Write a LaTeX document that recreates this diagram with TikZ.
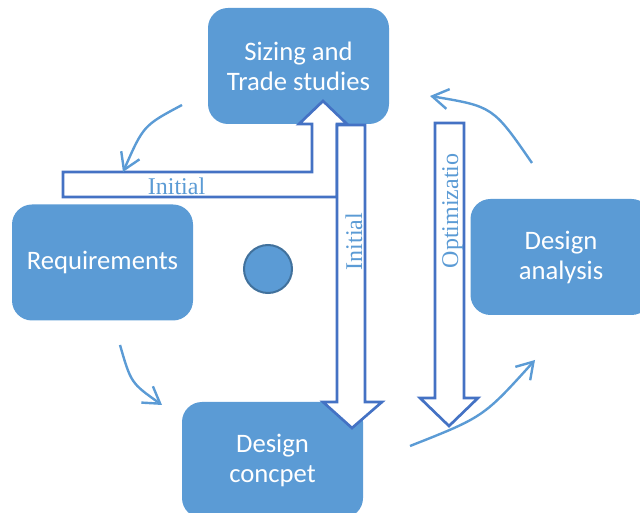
\documentclass[tikz,border=0pt]{standalone}
\usepackage{fontspec}
\setmainfont{Liberation Serif}
\newfontfamily\boxfont{Carlito}
\usetikzlibrary{arrows.meta}
\definecolor{boxblue}{HTML}{5B9BD5}
\definecolor{edgeblue}{HTML}{4472C4}
\definecolor{ringblue}{HTML}{41719C}
\begin{document}
\begin{tikzpicture}[x=0.75pt,y=-0.75pt,
  stagebox/.style={rectangle, rounded corners=15pt, fill=boxblue, text=white,
    font=\boxfont\fontsize{20pt}{22.5pt}\selectfont, align=center,
    inner sep=0pt, minimum width=135.75pt, minimum height=87pt},
  blockarrow/.style={draw=edgeblue, fill=white, line width=2pt, line join=miter},
  arrowlabel/.style={text=boxblue, font=\fontsize{18pt}{20pt}\selectfont, inner sep=0pt},
  cyclearrow/.style={draw=boxblue, line width=1.8pt,
    -{Straight Barb[length=12pt,width=15pt]}}
]
\useasboundingbox (0,0) rectangle (640,513);
\clip (0,0) rectangle (640,513);

% process stages
\node[stagebox] (sizing)   at (298.5,66)  {Sizing and\\Trade studies};
\node[stagebox] (req)      at (102.5,262.5) {Requirements};
\node[stagebox] (analysis) at (561,257)   {Design\\analysis};
\node[stagebox] (concept)  at (272.5,460) {Design\\concpet};

% centre marker
\node[circle, fill=boxblue, draw=ringblue, line width=1.5pt,
      minimum size=36pt, inner sep=0pt] (hub) at (268,269) {};

% bent block arrow up into the sizing stage
\path[blockarrow] (63,172) -- (312,172) -- (312,124) -- (299,124) -- (323,101)
  -- (347,124) -- (337,124) -- (337,197) -- (63,197) -- cycle;
\node[arrowlabel, anchor=base] (lblA) at (176.5,195) {Initial};

% block arrow down to the design concept
\path[blockarrow] (337,125) -- (365,125) -- (365,402) -- (382,402) -- (352,428)
  -- (323,402) -- (337,402) -- cycle;
\node[arrowlabel, anchor=base, rotate=90] (lblB) at (362,241.5) {Initial};

% optimisation block arrow
\path[blockarrow] (435,123) -- (464,123) -- (464,398) -- (478,398) -- (449,426)
  -- (420,398) -- (435,398) -- cycle;
\node[arrowlabel, anchor=base, rotate=90] (lblC) at (458,211) {Optimizatio};

% cycle arrows between the stages
\coordinate (a1s) at (182,105);  \coordinate (a1e) at (123,172);
\coordinate (a2s) at (120,345);  \coordinate (a2e) at (162,405);
\coordinate (a3s) at (410,446);  \coordinate (a3e) at (535,360);
\coordinate (a4s) at (532,163);  \coordinate (a4e) at (430,96);
\draw[cyclearrow] (a1s) .. controls (143.5,125.5) .. (a1e);
\draw[cyclearrow] (a2s) .. controls (131,383) .. (a2e);
\draw[cyclearrow] (a3s) .. controls (483.5,417) .. (a3e);
\draw[cyclearrow] (a4s) .. controls (493,106.5) .. (a4e);
\end{tikzpicture}
\end{document}
